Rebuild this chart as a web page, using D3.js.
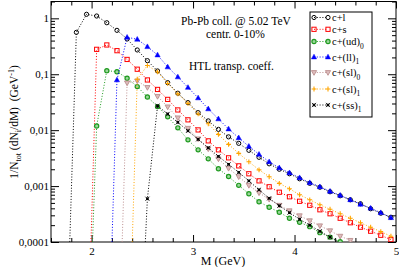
<!DOCTYPE html>
<html>
<head>
<meta charset="utf-8">
<script src="https://cdn.jsdelivr.net/npm/d3@7"></script>
<style>
  html, body { margin: 0; padding: 0; background: #fff; }
  svg { display: block; font-family: "Liberation Serif", "DejaVu Serif", serif; }
</style>
</head>
<body>
<svg id="chart" width="399" height="267"></svg>
<script>
// mass grid (GeV), one value every 0.1 GeV
const massGrid = [1.75, 1.85, 1.95, 2.05, 2.15, 2.25, 2.35, 2.45, 2.55, 2.65, 2.75, 2.85, 2.95,
  3.05, 3.15, 3.25, 3.35, 3.45, 3.55, 3.65, 3.75, 3.85, 3.95, 4.05, 4.15, 4.25, 4.35, 4.45,
  4.55, 4.65, 4.75, 4.85, 4.95];

// 1/N_tot dN_i/dM, null = channel closed; first value after nulls is the threshold
const cL = [1e-6, 0.562, 1.18, 1.10, 0.834, 0.61, 0.427, 0.272, 0.175, 0.1145, 0.0708, 0.0458, 0.0311,
  0.0206, 0.01466, 0.01033, 0.00759, 0.00581, 0.00436, 0.00327, 0.0025, 0.002, 0.00166, 0.00135,
  0.00112, 0.000953, 0.000791, 0.000671, 0.000569, 0.000483, 0.000393, 0.000327, 0.000277];
const cS = [null, null, 2e-7, 0.279, 0.334, 0.264, 0.184, 0.123, 0.0791, 0.0535, 0.0355, 0.023, 0.0153,
  0.0101, 0.00644, 0.00445, 0.0032, 0.0023, 0.00166, 0.00124, 0.000972, 0.000776, 0.000644, 0.000535,
  0.000454, 0.000377, 0.00032, 0.000266, 0.000221, 0.000184, 0.000156, 0.000132, 0.00011];
const cUd0 = [null, null, 1e-7, 0.0119, 0.116, 0.111, 0.0849, 0.0601, 0.0393, 0.0264, 0.0173, 0.011, 0.00671,
  0.00445, 0.00307, 0.00204, 0.00148, 0.00103, 0.000729, 0.000525, 0.000418, 0.00034, 0.000266, 0.000226,
  0.000188, 0.000147, 0.000122, 0.000101, 0.0000859, null, null, null, null];
const cLl1 = [null, null, null, null, 1e-7, 0.0791, 0.458, 0.422, 0.311, 0.221, 0.135, 0.0895, 0.0581,
  0.0377, 0.024, 0.0159, 0.0105, 0.00729, 0.00514, 0.0037, 0.00272, 0.00212, 0.00173, 0.00141,
  0.00115, 0.000972, 0.000807, 0.000685, 0.000569, 0.000473, 0.000402, 0.000334, 0.000272];
const cSl0 = [null, null, null, null, null, 1e-7, 0.07, 0.0759, 0.0581, 0.0402, 0.0261, 0.0166, 0.0108,
  0.007, 0.00464, 0.00307, 0.00208, 0.00147, 0.00103, 0.000759, 0.000581, 0.000454, 0.000362, 0.000295,
  0.00024, 0.000195, 0.000159, 0.000127, 0.000107, 0.0000895, null, null, null];
const cSl1 = [null, null, null, null, null, null, 1e-7, 0.0815, 0.1436, 0.11, 0.0685, 0.0445, 0.0301,
  0.0195, 0.013, 0.0084, 0.00557, 0.00385, 0.00272, 0.00195, 0.00147, 0.00112, 0.000895, 0.0007,
  0.000569, 0.000463, 0.000385, 0.00032, 0.000266, 0.000221, 0.000184, 0.000153, 0.000127];
const cSs1 = [null, null, null, null, null, null, null, 1e-7, 0.000593, 0.0272, 0.0195, 0.0138, 0.00972,
  0.00686, 0.00483, 0.0034, 0.00245, 0.00176, 0.00124, 0.000859, 0.000605, 0.000445, 0.000334, 0.000255,
  0.0002, 0.000156, 0.000122, 0.0000953, null, null, null, null, null];

const seriesNames = ["c+l", "c+s", "c+(ud)", "c+(ll)", "c+(sl)", "c+(sl)", "c+(ss)"];
const seriesSubs = ["", "", "0", "1", "0", "1", "1"];
const seriesValues = [cL, cS, cUd0, cLl1, cSl0, cSl1, cSs1];
const seriesColors = ["#000000", "#ff0000", "#1f9a1f", "#0000ff", "#bc8f8f", "#ffa500", "#000000"];
const seriesMarkers = ["circle", "square", "dotcircle", "triUp", "triDown", "plus", "cross"];

const xTickVals = [2, 3, 4, 5];
const yTickVals = [1e-4, 1e-3, 1e-2, 0.1, 1];
const yTickLabels = ["0,0001", "0,001", "0,01", "0,1", "1"];

const notes = ["Pb-Pb coll. @ 5.02 TeV", "centr. 0-10%", "HTL transp. coeff."];

const W = 399, H = 267;
const m = { left: 51, right: 3, top: 1.5, bottom: 25 };

const svg = d3.select("#chart");
const x = d3.scaleLinear().domain([1.6, 5]).range([m.left, W - m.right]);
const y = d3.scaleLog().domain([1e-4, 2]).range([H - m.bottom, m.top]);

svg.append("clipPath").attr("id", "clip")
  .append("rect")
  .attr("x", m.left).attr("y", m.top)
  .attr("width", W - m.left - m.right).attr("height", H - m.top - m.bottom);

// --- axes (ticks point inward, mirrored on top / right)
const xMinor = x.ticks(17).filter(t => !xTickVals.some(v => Math.abs(v - t) < 1e-6));
const yMinor = y.ticks().filter(t => !yTickVals.some(v => Math.abs(v / t - 1) < 1e-6));

function styleAxis(g) {
  g.select(".domain").remove();
  g.selectAll("line").attr("stroke", "#000").attr("stroke-width", 1);
  g.selectAll("text").attr("fill", "#000").attr("font-size", 11).attr("font-family", "Liberation Serif, serif");
}

svg.append("g").attr("transform", `translate(0,${H - m.bottom})`)
  .call(d3.axisBottom(x).tickValues(xTickVals).tickSize(-7).tickPadding(5).tickFormat(d3.format("d")))
  .call(styleAxis);
svg.append("g").attr("transform", `translate(0,${H - m.bottom})`)
  .call(d3.axisBottom(x).tickValues(xMinor).tickSize(-4).tickFormat(""))
  .call(styleAxis);
svg.append("g").attr("transform", `translate(0,${m.top})`)
  .call(d3.axisTop(x).tickValues(xTickVals).tickSize(-7).tickFormat(""))
  .call(styleAxis);
svg.append("g").attr("transform", `translate(0,${m.top})`)
  .call(d3.axisTop(x).tickValues(xMinor).tickSize(-4).tickFormat(""))
  .call(styleAxis);

svg.append("g").attr("transform", `translate(${m.left},0)`)
  .call(d3.axisLeft(y).tickValues(yTickVals).tickSize(-8).tickPadding(2)
    .tickFormat((d, i) => yTickLabels[i]))
  .call(styleAxis);
svg.append("g").attr("transform", `translate(${m.left},0)`)
  .call(d3.axisLeft(y).tickValues(yMinor).tickSize(-4).tickFormat(""))
  .call(styleAxis);
svg.append("g").attr("transform", `translate(${W - m.right},0)`)
  .call(d3.axisRight(y).tickValues(yTickVals).tickSize(-8).tickFormat(""))
  .call(styleAxis);
svg.append("g").attr("transform", `translate(${W - m.right},0)`)
  .call(d3.axisRight(y).tickValues(yMinor).tickSize(-4).tickFormat(""))
  .call(styleAxis);

svg.append("rect")
  .attr("x", m.left).attr("y", m.top)
  .attr("width", W - m.left - m.right).attr("height", H - m.top - m.bottom)
  .attr("fill", "none").attr("stroke", "#000").attr("stroke-width", 1);

// --- markers (small, xmgrace-like)
function drawMarker(g, type, color, cx, cy) {
  if (type === "circle") {
    g.append("circle").attr("cx", cx).attr("cy", cy).attr("r", 2.1)
      .attr("fill", "none").attr("stroke", color).attr("stroke-width", 1);
  } else if (type === "square") {
    g.append("rect").attr("x", cx - 2.1).attr("y", cy - 2.1).attr("width", 4.2).attr("height", 4.2)
      .attr("fill", "none").attr("stroke", color).attr("stroke-width", 1);
  } else if (type === "dotcircle") {
    g.append("circle").attr("cx", cx).attr("cy", cy).attr("r", 2.1)
      .attr("fill", "#9ad69a").attr("stroke", color).attr("stroke-width", 1.2);
  } else if (type === "triUp") {
    g.append("path").attr("d", `M${cx},${cy - 2.8}L${cx + 2.6},${cy + 1.9}L${cx - 2.6},${cy + 1.9}Z`)
      .attr("fill", color).attr("stroke", color).attr("stroke-width", 0.5);
  } else if (type === "triDown") {
    g.append("path").attr("d", `M${cx},${cy + 2.8}L${cx + 2.6},${cy - 1.9}L${cx - 2.6},${cy - 1.9}Z`)
      .attr("fill", "#dcbcbc").attr("stroke", color).attr("stroke-width", 0.9);
  } else if (type === "plus") {
    g.append("path").attr("d", `M${cx - 2.4},${cy}H${cx + 2.4}M${cx},${cy - 2.4}V${cy + 2.4}`)
      .attr("stroke", color).attr("stroke-width", 1.1);
  } else if (type === "cross") {
    g.append("rect").attr("x", cx - 1.3).attr("y", cy - 1.3).attr("width", 2.6).attr("height", 2.6)
      .attr("fill", color);
    g.append("path").attr("d", `M${cx - 2.1},${cy - 2.1}L${cx + 2.1},${cy + 2.1}M${cx - 2.1},${cy + 2.1}L${cx + 2.1},${cy - 2.1}`)
      .attr("stroke", color).attr("stroke-width", 0.8);
  }
}

// --- series
const plot = svg.append("g").attr("clip-path", "url(#clip)");
const line = d3.line()
  .defined(d => d.v != null)
  .x(d => x(d.m))
  .y(d => y(d.v));

seriesValues.forEach((vals, i) => {
  const pts = massGrid.map((mm, k) => ({ m: mm, v: vals[k] }));
  const g = plot.append("g");
  g.append("path").datum(pts)
    .attr("d", line)
    .attr("fill", "none")
    .attr("stroke", seriesColors[i])
    .attr("stroke-width", 1)
    .attr("stroke-dasharray", "1,1.8");
  pts.filter(p => p.v != null && p.v >= 1e-4).forEach(p => {
    drawMarker(g, seriesMarkers[i], seriesColors[i], x(p.m), y(p.v));
  });
});

// --- annotations
const noteX = [181, 206, 189];
const noteY = [25, 38, 70];
notes.forEach((t, i) => {
  svg.append("text").attr("x", noteX[i]).attr("y", noteY[i])
    .attr("font-size", 11.5).attr("fill", "#000").text(t);
});

// --- legend
const legRowY = [17.5, 29.3, 41.5, 57, 72.5, 89, 105];
const leg = svg.append("g");
leg.append("rect").attr("x", 310).attr("y", 12).attr("width", 62).attr("height", 105)
  .attr("fill", "#fff").attr("stroke", "#000").attr("stroke-width", 1);
seriesNames.forEach((name, i) => {
  const ly = legRowY[i];
  leg.append("line").attr("x1", 314).attr("x2", 328).attr("y1", ly).attr("y2", ly)
    .attr("stroke", seriesColors[i]).attr("stroke-width", 1).attr("stroke-dasharray", "1,1.8");
  drawMarker(leg, seriesMarkers[i], seriesColors[i], 314, ly);
  drawMarker(leg, seriesMarkers[i], seriesColors[i], 328, ly);
  const t = leg.append("text").attr("x", 332).attr("y", ly + 3.8)
    .attr("font-size", 10.5).attr("fill", "#000").text(name);
  if (seriesSubs[i]) {
    t.append("tspan").attr("dy", 3.5).attr("font-size", 7.5).text(seriesSubs[i]);
  }
});

// --- axis titles
svg.append("text").attr("x", 223).attr("y", 265)
  .attr("text-anchor", "middle").attr("font-size", 12).text("M (GeV)");

const yl = svg.append("text")
  .attr("transform", "translate(18,122) rotate(-90)")
  .attr("text-anchor", "middle").attr("font-size", 11.5);
yl.append("tspan").text("1/N");
yl.append("tspan").attr("dy", 3).attr("font-size", 8).text("tot");
yl.append("tspan").attr("dy", -3).text(" (dN");
yl.append("tspan").attr("dy", 3).attr("font-size", 8).text("i");
yl.append("tspan").attr("dy", -3).text("/dM)\u00a0\u00a0(GeV");
yl.append("tspan").attr("dy", -4).attr("font-size", 8).text("-1");
yl.append("tspan").attr("dy", 4).text(")");
</script>
</body>
</html>
